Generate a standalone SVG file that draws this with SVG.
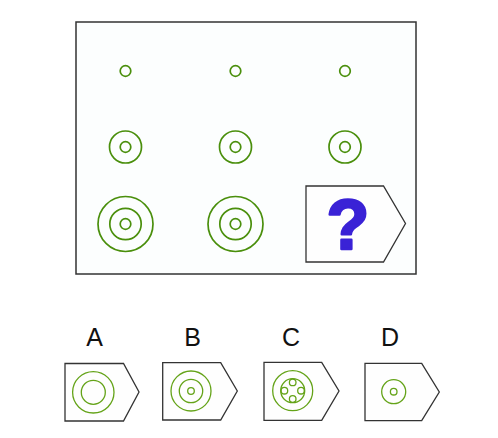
<svg xmlns="http://www.w3.org/2000/svg" width="498" height="438" viewBox="0 0 498 438">
<style>
.g{fill:none;stroke:#4a8f0c;stroke-width:1.7}
.go{fill:none;stroke:#64a318;stroke-width:1.3}
.box{fill:#fefefe;stroke:#333;stroke-width:1.3}
.lbl{font-family:"Liberation Sans",Arial,sans-serif;font-size:25px;fill:#111;text-anchor:middle}
</style>
<rect width="498" height="438" fill="#fff"/>
<g id="frame"><rect x="76" y="22" width="340" height="252" fill="#fcfefe" stroke="#333" stroke-width="1.5"/></g>
<g id="r1c1"><circle class="g" cx="125.5" cy="71" r="5.3"/></g>
<g id="r1c2"><circle class="g" cx="235.5" cy="71" r="5.3"/></g>
<g id="r1c3"><circle class="g" cx="345" cy="71" r="5.3"/></g>
<g id="r2c1"><circle class="g" cx="125.5" cy="147" r="16"/><circle class="g" cx="125.5" cy="147" r="5.3"/></g>
<g id="r2c2"><circle class="g" cx="235.5" cy="147" r="16"/><circle class="g" cx="235.5" cy="147" r="5.3"/></g>
<g id="r2c3"><circle class="g" cx="345" cy="147" r="16"/><circle class="g" cx="345" cy="147" r="5.3"/></g>
<g id="r3c1"><circle class="g" cx="125.5" cy="224" r="27.5"/><circle class="g" cx="125.5" cy="224" r="15.7"/><circle class="g" cx="125.5" cy="224" r="5.3"/></g>
<g id="r3c2"><circle class="g" cx="235.5" cy="224" r="27.5"/><circle class="g" cx="235.5" cy="224" r="15.7"/><circle class="g" cx="235.5" cy="224" r="5.3"/></g>
<g id="question"><polygon class="box" points="306,186 383.5,186 405.5,223.5 383.5,262 306,262"/>
<text x="348" y="249" font-family="Liberation Sans,Arial,sans-serif" font-weight="bold" font-size="70" fill="#3a22d6" stroke="#3a22d6" stroke-width="2.5" stroke-linejoin="round" text-anchor="middle">?</text></g>
<g id="optA"><text class="lbl" x="94.5" y="346">A</text><polygon class="box" points="65,363.5 123.5,363.5 139,392 123.5,421 65,421"/><circle class="go" cx="93.3" cy="392.3" r="20.7"/><circle class="go" cx="93.3" cy="392.3" r="12"/></g>
<g id="optB"><text class="lbl" x="192.7" y="346">B</text><polygon class="box" points="162.7,362.7 220.7,362.7 237.3,391 220.7,420 162.7,420"/><circle class="go" cx="191" cy="391" r="20"/><circle class="go" cx="191" cy="391" r="11.7"/><circle class="go" cx="191" cy="391" r="3.3"/></g>
<g id="optC"><text class="lbl" x="291" y="346">C</text><polygon class="box" points="264,362.3 321.7,362.3 339,391 321.7,420.3 264,420.3"/><circle class="go" cx="292.7" cy="390.7" r="20"/><circle class="go" cx="292.7" cy="390.7" r="12"/><circle class="go" cx="292.7" cy="382.4" r="3.3"/><circle class="go" cx="292.7" cy="399" r="3.3"/><circle class="go" cx="284.4" cy="390.7" r="3.3"/><circle class="go" cx="301" cy="390.7" r="3.3"/></g>
<g id="optD"><text class="lbl" x="390" y="346">D</text><polygon class="box" points="365,363.3 421.7,363.3 439.3,392 421.7,420.7 365,420.7"/><circle class="go" cx="393.7" cy="391.7" r="12"/><circle class="go" cx="393.7" cy="391.7" r="3.3"/></g>
<g id="connectors"></g>
</svg>
